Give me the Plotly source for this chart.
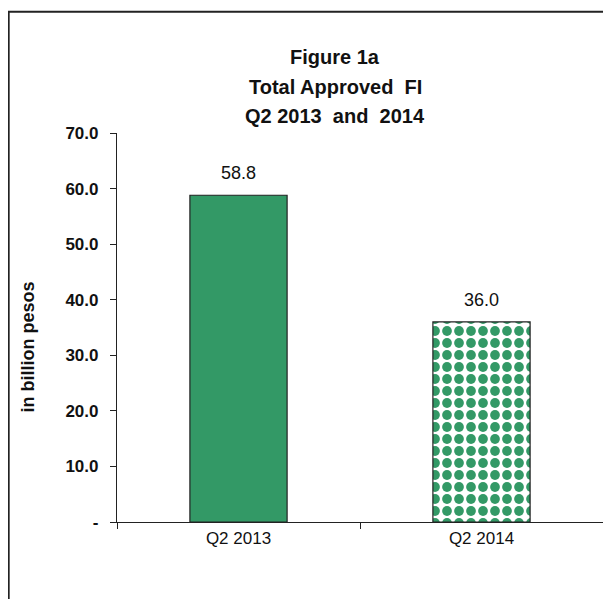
import plotly.graph_objects as go

# data
quarters = ["Q2 2013", "Q2 2014"]
approved_fi = [58.8, 36.0]
y_ticks = [0, 10, 20, 30, 40, 50, 60, 70]
y_tick_text = ["-", "10.0", "20.0", "30.0", "40.0", "50.0", "60.0", "70.0"]
title_lines = ["Figure 1a", "Total Approved  FI", "Q2 2013  and  2014"]

FONT = "Liberation Sans, Arial, sans-serif"
GREEN = "#339966"
INK = "#111111"

fig = go.Figure()
# 2013: solid green bar
fig.add_trace(go.Bar(
    x=quarters[:1], y=approved_fi[:1], width=0.4,
    marker=dict(color=GREEN, line=dict(color="#222222", width=1.2)),
))
# 2014: green diamond-ish pattern on white
fig.add_trace(go.Bar(
    x=quarters[1:], y=approved_fi[1:], width=0.4,
    marker=dict(color="white", line=dict(color="#222222", width=1.2),
                pattern=dict(shape=".", fgcolor=GREEN, bgcolor="white", fgopacity=1,
                             size=12, solidity=0.52, fillmode="replace")),
))

#value labels above each bar
for q, v in zip(quarters, approved_fi):
    fig.add_annotation(x=q, y=v, text=f"{v:.1f}", showarrow=False,
                       yanchor="bottom", yshift=10,
                       font=dict(family=FONT, size=18, color=INK))

# title as three separate lines (wider line spacing than plotly's title)
for line, ty in zip(title_lines, [1.195, 1.117, 1.044]):
    fig.add_annotation(text=f"<b>{line}</b>", showarrow=False,
                       xref="paper", yref="paper", x=0.449, y=ty,
                       xanchor="center", yanchor="middle",
                       font=dict(family=FONT, size=20, color=INK))

fig.add_annotation(text="<b>in billion pesos</b>", textangle=-90, showarrow=False,
                   xref="paper", yref="paper", x=-0.184, y=0.45,
                   xanchor="center", yanchor="middle",
                   font=dict(family=FONT, size=18, color=INK))

# outer frame (left and top only)
fig.add_shape(type="path", xref="paper", yref="paper",
              path="M -0.2229,-0.3 L -0.2229,1.3116 L 1.02,1.3116",
              line=dict(color="#222222", width=2))

fig.update_layout(
    width=603, height=591,
    margin=dict(l=109, r=8, t=125, b=77),
    paper_bgcolor="white", plot_bgcolor="white",
    showlegend=False, barmode="overlay",
    font=dict(family=FONT, color=INK),
)
fig.update_xaxes(categoryorder="array", categoryarray=quarters,
                 showline=True, linecolor="#222222", linewidth=1.2,
                 ticks="outside", tickson="boundaries", ticklen=6,
                 tickcolor="#222222", tickfont=dict(size=17),
                 showgrid=False)
fig.update_yaxes(range=[0, 70], tickvals=y_ticks,
                 ticktext=[f"<b>{t}</b>" for t in y_tick_text],
                 showline=True, linecolor="#222222", linewidth=1.2,
                 ticks="outside", ticklen=6, tickcolor="#222222",
                 ticklabelstandoff=8,
                 tickfont=dict(size=17), showgrid=False, zeroline=False)

fig.write_html("out.html")
